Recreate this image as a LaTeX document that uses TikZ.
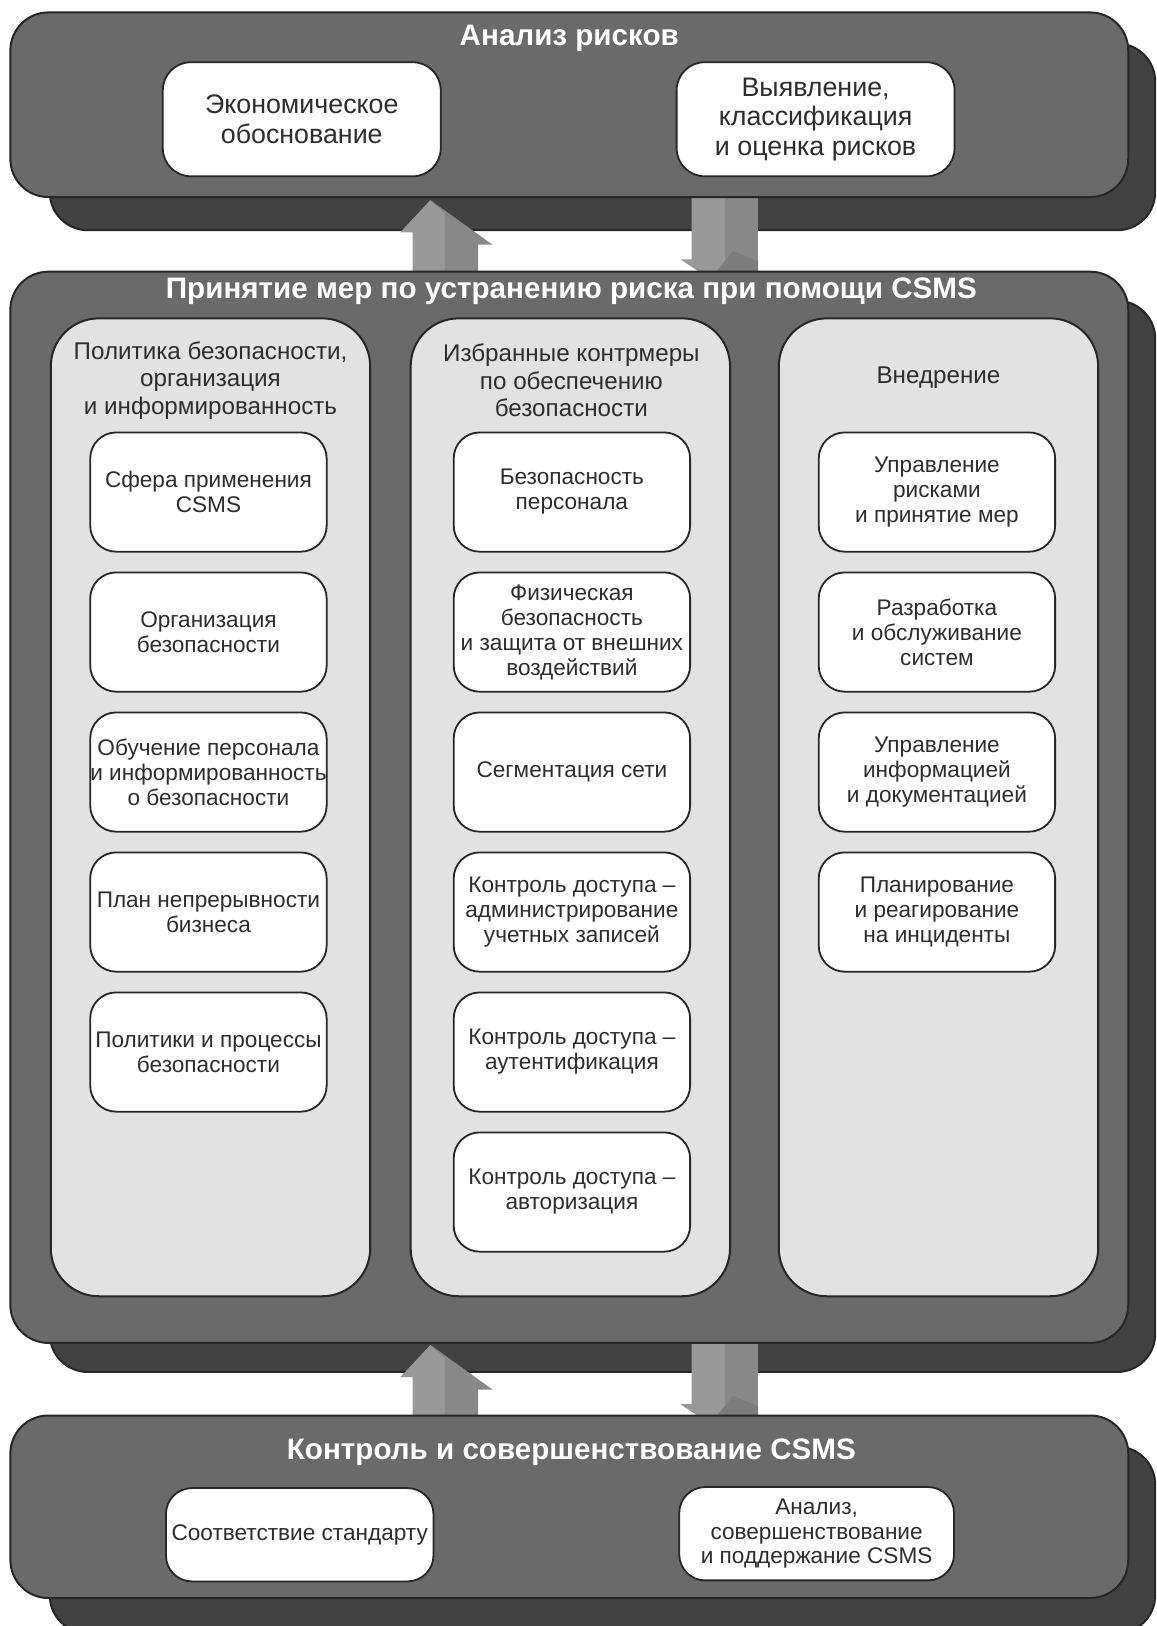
\documentclass[tikz,border=0pt]{standalone}
\usepackage{fontspec}
\setmainfont{Liberation Sans}
\definecolor{pfront}{RGB}{106,106,106}
\definecolor{pshadow}{RGB}{66,66,66}
\definecolor{pline}{RGB}{38,38,38}
\definecolor{colfill}{RGB}{226,226,226}
\definecolor{txt}{RGB}{45,45,45}
\definecolor{arrA}{RGB}{152,152,152}
\definecolor{arrB}{RGB}{136,136,136}
\def\uu{0.5184pt}
\tikzset{
  panel/.style={draw=pline, line width=1pt, fill=pfront, rounded corners=19pt, inner sep=0pt, outer sep=0pt},
  shpanel/.style={draw=pline, line width=1pt, fill=pshadow, rounded corners=19pt, inner sep=0pt, outer sep=0pt},
  column/.style={draw=pline, line width=1pt, fill=colfill, rounded corners=24pt, inner sep=0pt, outer sep=0pt, minimum width=308*\uu, minimum height=943*\uu},
  ptitle/.style={text=white, font=\fontsize{14.8}{16}\selectfont\bfseries, inner sep=0pt},
  chead/.style={text=txt, align=center, font=\fontsize{12.1}{13.8}\selectfont, inner sep=0pt},
  ibox/.style={draw=pline, line width=0.9pt, fill=white, rounded corners=13pt, minimum width=228*\uu, minimum height=115*\uu, align=center, text=txt, inner sep=0pt, font=\fontsize{11.3}{12.5}\selectfont},
  tbox/.style={draw=pline, line width=0.9pt, fill=white, rounded corners=14pt, minimum width=268*\uu, minimum height=110*\uu, align=center, text=txt, inner sep=0pt, font=\fontsize{13.4}{14.8}\selectfont},
  bbox/.style={draw=pline, line width=0.9pt, fill=white, rounded corners=13pt, minimum height=90*\uu, align=center, text=txt, inner sep=0pt, font=\fontsize{11.3}{12.4}\selectfont},
  uparr/.pic={
    \fill[arrA] (0,0) -- (14,12) -- (14,69) -- (-17,69) -- (-17,31) -- (-29,31) -- cycle;
    \fill[arrB] (0,0) -- (60,43) -- (46,43) -- (46,69) -- (14,69) -- (14,12) -- cycle;
  },
  downarr/.pic={
    \fill[arrA] (0,-6) -- (32,-6) -- (32,74) -- (10,74) -- (-11,60) -- (0,60) -- cycle;
    \fill[arrB] (32,-6) -- (64,-6) -- (64,74) -- (32,74) -- cycle;
    \fill[arrB!92!black] (22,74) -- (40,52) -- (64,62) -- (64,74) -- cycle;
  }
}
\begin{document}
\begin{tikzpicture}[x=\uu, y=-\uu]
\useasboundingbox[fill=white] (0,0) rectangle (1115,1568);
% shadows
\node[shpanel, minimum width=1066*\uu, minimum height=180*\uu] (topsh) at (581,132) {};
\node[shpanel, minimum width=1066*\uu, minimum height=1033*\uu] (midsh) at (581,806.5) {};
\node[shpanel, minimum width=1066*\uu, minimum height=180*\uu] (botsh) at (581,1485) {};
% arrows
\coordinate (a1) at (415,193);
\coordinate (a2) at (667,190);
\coordinate (a3) at (415,1297);
\coordinate (a4) at (667,1294);
\pic at (a1) {uparr};
\pic at (a2) {downarr};
\pic at (a3) {uparr};
\pic at (a4) {downarr};
% front panels
\node[panel, minimum width=1078*\uu, minimum height=178*\uu] (top) at (549,101) {};
\node[panel, minimum width=1078*\uu, minimum height=1033*\uu] (mid) at (549,778.5) {};
\node[panel, minimum width=1078*\uu, minimum height=176*\uu] (bot) at (549,1453) {};
% titles
\node[ptitle] (t1) at (549,37) {Анализ рисков};
\node[ptitle] (t2) at (551,281) {Принятие мер по устранению риска при помощи CSMS};
\node[ptitle] (t3) at (551,1400) {Контроль и совершенствование CSMS};
% top boxes
\node[tbox] (tb1) at (291,115) {Экономическое\\обоснование};
\node[tbox] (tb2) at (786.5,115) {Выявление,\\классификация\\и оценка рисков};
% columns
\node[column] (c1) at (203,778.5) {};
\node[column] (c2) at (550,778.5) {};
\node[column] (c3) at (905,778.5) {};
\node[chead] (h1) at (203,367) {Политика безопасности,\\организация\\и информированность};
\node[chead] (h2) at (551,367) {Избранные контрмеры\\по обеспечению\\безопасности};
\node[chead] (h3) at (905,364) {Внедрение};
% column 1
\node[ibox] (b11) at (201,474.5) {Сфера применения\\CSMS};
\node[ibox] (b12) at (201,609.5) {Организация\\безопасности};
\node[ibox] (b13) at (201,744.5) {Обучение персонала\\и информированность\\о безопасности};
\node[ibox] (b14) at (201,879.5) {План непрерывности\\бизнеса};
\node[ibox] (b15) at (201,1014.5) {Политики и процессы\\безопасности};
% column 2
\node[ibox] (b21) at (551.5,474.5) {Безопасность\\персонала};
\node[ibox] (b22) at (551.5,609.5) {Физическая\\безопасность\\и защита от внешних\\воздействий};
\node[ibox] (b23) at (551.5,744.5) {Сегментация сети};
\node[ibox] (b24) at (551.5,879.5) {Контроль доступа –\\администрирование\\учетных записей};
\node[ibox] (b25) at (551.5,1014.5) {Контроль доступа –\\аутентификация};
\node[ibox] (b26) at (551.5,1149.5) {Контроль доступа –\\авторизация};
% column 3
\node[ibox] (b31) at (903.5,474.5) {Управление\\рисками\\и принятие мер};
\node[ibox] (b32) at (903.5,609.5) {Разработка\\и обслуживание\\систем};
\node[ibox] (b33) at (903.5,744.5) {Управление\\информацией\\и документацией};
\node[ibox] (b34) at (903.5,879.5) {Планирование\\и реагирование\\на инциденты};
% bottom boxes
\node[bbox, minimum width=258*\uu] (bb1) at (289,1480) {Соответствие стандарту};
\node[bbox, minimum width=265*\uu] (bb2) at (787.5,1479) {Анализ,\\совершенствование\\и поддержание CSMS};
\end{tikzpicture}
\end{document}
